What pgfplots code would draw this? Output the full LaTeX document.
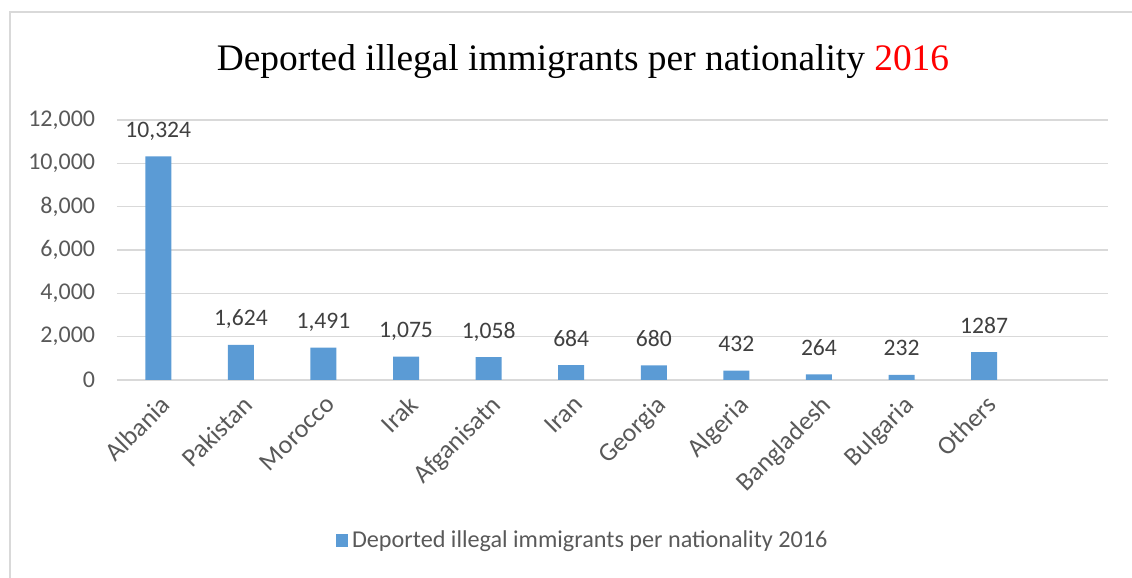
\documentclass[border=0pt]{standalone}
\usepackage{fontspec}
\setmainfont{Carlito}
\newfontfamily\titlefont{Liberation Serif}
\usepackage{pgfplots}
\pgfplotsset{compat=1.18}
\definecolor{barblue}{HTML}{5B9BD5}
\definecolor{tickgray}{HTML}{595959}
\definecolor{labgray}{HTML}{404040}
\definecolor{gridgray}{HTML}{D9D9D9}
\begin{document}
\begin{tikzpicture}
\useasboundingbox (0pt,0pt) rectangle (566pt,289pt);
\draw[gridgray, line width=1pt] (5pt,-20pt) rectangle (600pt,283pt);
\node[anchor=base, font=\titlefont\fontsize{18.7}{22}\selectfont] at (291.5pt,253.5pt) {Deported illegal immigrants per nationality \textcolor{red}{2016}};
\begin{axis}[
  at={(58.5pt,99pt)}, anchor=south west,
  scale only axis, width=495.5pt, height=130pt,
  ybar, bar width=13pt,
  xmin=-0.5, xmax=11.5, ymin=0, ymax=12000,
  xtick={0,...,10},
  xticklabels={Albania,Pakistan,Morocco,Irak,Afganisatn,Iran,Georgia,Algeria,Bangladesh,Bulgaria,Others},
  ytick={0,2000,...,12000},
  /pgf/number format/assume math mode=true,
  /pgf/number format/1000 sep={,},
  scaled y ticks=false,
  ymajorgrids, grid style={gridgray, line width=0.75pt},
  axis line style={draw=none},
  extra y ticks={0}, extra y tick labels={},
  extra y tick style={grid style={gridgray, line width=1pt}},
  major tick length=0pt,
  tick label style={font=\fontsize{12}{14}\selectfont, text=tickgray},
  yticklabel style={xshift=-7.4pt},
  xticklabel style={font=\fontsize{13}{15}\selectfont, rotate=45, anchor=north east, inner sep=1pt, xshift=-3.5pt, yshift=-4pt},
  nodes near coords={\pgfplotspointmeta},
  point meta=explicit symbolic,
  nodes near coords style={anchor=base, yshift=10.5pt-1pt, font=\fontsize{11.8}{14}\selectfont, text=labgray, inner sep=0pt},
  legend style={at={(0.471,-0.619)}, anchor=center, draw=none, fill=none,
    font=\fontsize{12.1}{14}\selectfont, text=tickgray, legend cell align=left},
  legend image code/.code={\fill[barblue] (0pt,-3pt) rectangle (6pt,3.5pt);},
]
\addplot[fill=barblue, draw=none] table[x=x, y=y, meta=lab] {
x y lab
0 10324 10,324
1 1624 1,624
2 1491 1,491
3 1075 1,075
4 1058 1,058
5 684 684
6 680 680
7 432 432
8 264 264
9 232 232
10 1287 1287
};
\legend{Deported illegal immigrants per nationality 2016}
\end{axis}
\end{tikzpicture}
\end{document}
